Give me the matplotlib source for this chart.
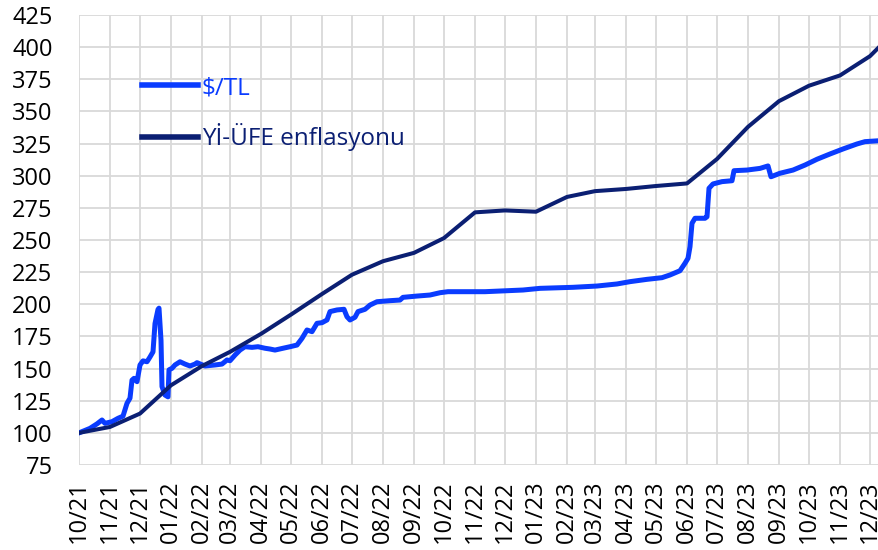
import matplotlib
matplotlib.use("Agg")
import numpy as np
import pandas as pd
import matplotlib.pyplot as plt
import matplotlib.dates as mdates

plt.rcParams['font.family'] = ['Open Sans', 'DejaVu Sans']

# $/TL (Oct 2021 = 100), daily series
usd_dates = [
    "2021-10-01", "2021-10-12", "2021-10-19", "2021-10-24", "2021-10-27", "2021-11-03",
    "2021-11-09", "2021-11-14", "2021-11-18", "2021-11-21", "2021-11-23", "2021-11-25",
    "2021-11-28", "2021-12-01", "2021-12-04", "2021-12-08", "2021-12-11", "2021-12-14",
    "2021-12-16", "2021-12-19", "2021-12-20", "2021-12-22", "2021-12-23", "2021-12-26",
    "2021-12-29", "2021-12-30", "2022-01-02", "2022-01-05", "2022-01-10", "2022-01-15",
    "2022-01-20", "2022-01-25", "2022-01-27", "2022-02-04", "2022-02-14", "2022-02-21",
    "2022-02-26", "2022-03-01", "2022-03-06", "2022-03-11", "2022-03-16", "2022-03-23",
    "2022-03-29", "2022-04-05", "2022-04-10", "2022-04-15", "2022-04-23", "2022-04-30",
    "2022-05-07", "2022-05-12", "2022-05-17", "2022-05-22", "2022-05-27", "2022-06-01",
    "2022-06-06", "2022-06-09", "2022-06-16", "2022-06-23", "2022-06-26", "2022-06-29",
    "2022-07-04", "2022-07-07", "2022-07-14", "2022-07-19", "2022-07-26", "2022-08-08",
    "2022-08-18", "2022-08-21", "2022-09-04", "2022-09-17", "2022-09-27", "2022-10-05",
    "2022-10-17", "2022-11-11", "2022-12-19", "2023-01-05", "2023-02-07", "2023-03-03",
    "2023-03-23", "2023-04-05", "2023-04-22", "2023-05-07", "2023-05-15", "2023-05-25",
    "2023-05-30", "2023-06-02", "2023-06-04", "2023-06-06", "2023-06-09", "2023-06-19",
    "2023-06-21", "2023-06-23", "2023-06-27", "2023-07-06", "2023-07-16", "2023-07-18",
    "2023-07-31", "2023-08-13", "2023-08-21", "2023-08-24", "2023-09-02", "2023-09-15",
    "2023-09-27", "2023-10-09", "2023-10-22", "2023-11-04", "2023-11-18", "2023-11-26",
    "2023-12-10",
]
usd_values = [
    100, 103.5, 107, 110, 107.4, 108.7,
    111.3, 113, 123, 127, 141, 142.4,
    139.8, 152.8, 156, 155.3, 159, 163,
    185, 196, 197, 172, 136, 129.4,
    128, 149, 150.2, 152.8, 155.3, 153.5,
    152, 153.5, 154.6, 152, 152.8, 153.5,
    156.7, 156.1, 160.5, 164.4, 167, 166.5,
    167, 165.8, 165.2, 164.4, 165.8, 167,
    168.3, 173.5, 180, 178.7, 185.2, 185.7,
    187.8, 194.3, 195.6, 196.1, 190.3, 187.8,
    189.9, 194.3, 196.1, 199.4, 202, 202.8,
    203.3, 205.4, 206.4, 207.2, 209, 209.8,
    209.8, 209.8, 211.1, 212.4, 213.2, 214.2,
    215.8, 217.6, 219.4, 220.7, 222.8, 226.1,
    231.9, 235.8, 244.8, 263, 266.9, 266.9,
    268.1, 290.2, 293.6, 295.4, 296.1, 303.9,
    304.4, 305.7, 307.6, 299.2, 301.9, 304.4,
    308.3, 312.8, 316.9, 320.8, 324.7, 326.5,
    327.2,
]

# Yİ-ÜFE (domestic PPI, Oct 2021 = 100), monthly
ppi_dates = [
    "2021-10-01", "2021-11-01", "2021-12-01", "2022-01-01", "2022-02-01", "2022-03-01",
    "2022-04-01", "2022-05-01", "2022-06-01", "2022-07-01", "2022-08-01", "2022-09-01",
    "2022-10-01", "2022-11-01", "2022-12-01", "2023-01-01", "2023-02-01", "2023-03-01",
    "2023-04-01", "2023-05-01", "2023-06-01", "2023-07-01", "2023-08-01", "2023-09-01",
    "2023-10-01", "2023-11-01", "2023-12-01", "2023-12-10",
]
ppi_values = [
    100, 104.6, 115, 137, 152, 163,
    177, 192, 208, 223, 233.5, 240,
    251.5, 271.5, 273, 272, 283.5, 288,
    289.7, 292, 294, 313, 338, 358,
    370, 378, 393, 400,
]

labels = ["$/TL", "Yİ-ÜFE enflasyonu"]
blue = "#0a3cff"
navy = "#0b1f73"

fig = plt.figure(figsize=(8.79, 5.5), dpi=100)
ax = fig.add_axes([79/879, 85/550, 800/879, 450/550])

l1, = ax.plot(pd.to_datetime(usd_dates), usd_values, color=blue, lw=3.6,
              solid_joinstyle='round', label=labels[0], zorder=3)
l2, = ax.plot(pd.to_datetime(ppi_dates), ppi_values, color=navy, lw=2.9,
              solid_joinstyle='round', label=labels[1], zorder=4)

ax.set_xlim(pd.Timestamp("2021-10-01"), pd.Timestamp("2023-12-10"))
ax.set_ylim(75, 425)
ax.set_yticks(np.arange(75, 426, 25))
ax.xaxis.set_major_locator(mdates.MonthLocator())
ax.xaxis.set_major_formatter(mdates.DateFormatter('%m/%y'))

ax.grid(True, color="#d9d9d9", lw=1.3)
ax.set_axisbelow(True)
for s in ax.spines.values():
    s.set_visible(False)
ax.tick_params(axis='y', length=0, pad=19, labelsize=17)
ax.tick_params(axis='x', length=0, pad=11, labelsize=17, rotation=90)

# legend sits inside the plot, text coloured like its line
leg = ax.legend(handles=[l1, l2], loc='upper left', frameon=False,
                bbox_to_anchor=(142/879, 1 - 76/550), bbox_transform=fig.transFigure,
                borderaxespad=0, borderpad=0, fontsize=17.5, handlelength=2.3,
                handletextpad=0.15, labelspacing=0.95, labelcolor='linecolor')
for h in leg.get_lines():
    h.set_linewidth(4)

fig.savefig("out.png", dpi=100)
